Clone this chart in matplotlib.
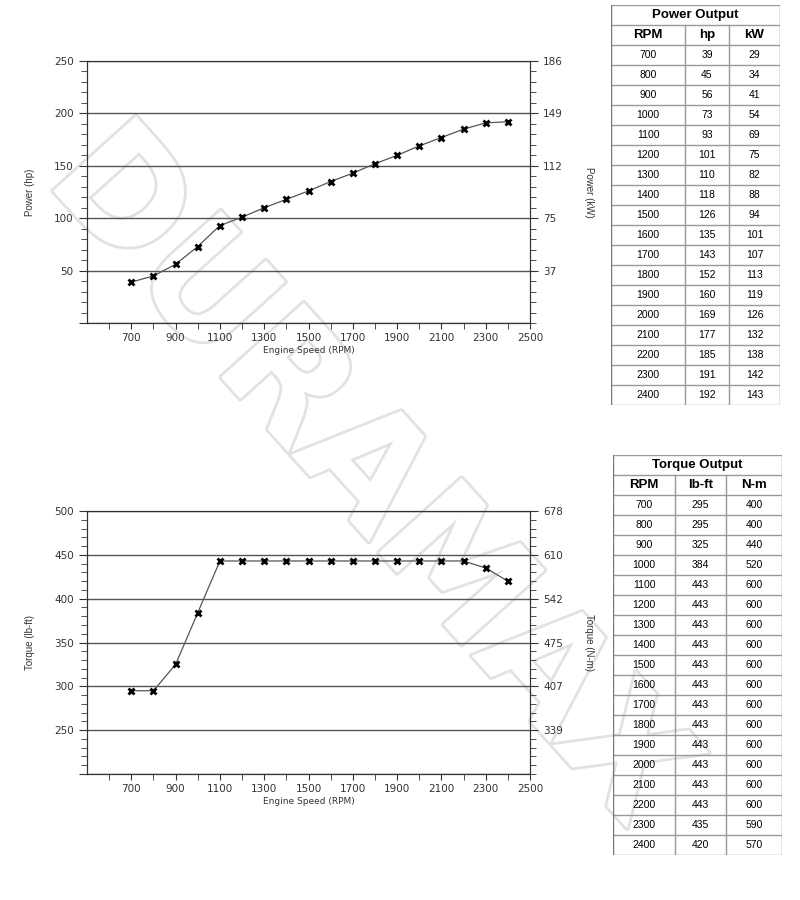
import matplotlib
matplotlib.use('Agg')
import matplotlib.pyplot as plt
import matplotlib.patheffects as pe
from matplotlib.ticker import FixedLocator

# engine data
rpm = [700, 800, 900, 1000, 1100, 1200, 1300, 1400, 1500, 1600,
       1700, 1800, 1900, 2000, 2100, 2200, 2300, 2400]
power_hp = [39, 45, 56, 73, 93, 101, 110, 118, 126, 135,
            143, 152, 160, 169, 177, 185, 191, 192]
power_kw = [29, 34, 41, 54, 69, 75, 82, 88, 94, 101,
            107, 113, 119, 126, 132, 138, 142, 143]
torque_lbft = [295, 295, 325, 384, 443, 443, 443, 443, 443, 443,
               443, 443, 443, 443, 443, 443, 435, 420]
torque_nm = [400, 400, 440, 520, 600, 600, 600, 600, 600, 600,
             600, 600, 600, 600, 600, 600, 590, 570]

HP_TO_KW = 0.7457
LBFT_TO_NM = 1.3558

narrow = ['Liberation Sans Narrow', 'Liberation Sans', 'DejaVu Sans']
plt.rcParams['font.family'] = ['Liberation Sans', 'DejaVu Sans']

fig = plt.figure(figsize=(8, 9), dpi=100)

# faint outlined watermark behind everything
fig.text(0.46, 0.47, 'DURAMAX', fontsize=110, fontweight='bold',
         family='DejaVu Sans', rotation=-48, ha='center', va='center',
         color='white', zorder=-5,
         path_effects=[pe.withStroke(linewidth=4, foreground='#e2e2e2')])


# one engine curve with a second (metric) axis on the right
def curvePlot(rect, y, ymin, ymax, conv, ylab, ylab2):
    ax = fig.add_axes(rect)
    ax.patch.set_alpha(0)
    ax.plot(rpm, y, color='#555555', lw=0.9, marker='x', ms=5, mew=2,
            mec='black', zorder=3)
    ax.set_xlim(500, 2500)
    ax.xaxis.set_major_locator(FixedLocator(range(700, 2501, 200)))
    ax.xaxis.set_minor_locator(FixedLocator(range(600, 2500, 200)))
    major = list(range(ymin, ymax + 1, 50))
    ax.set_yticks(major)
    ax.set_yticklabels(['' if v == ymin else '%d' % v for v in major])
    ax.yaxis.set_minor_locator(FixedLocator(range(ymin, ymax, 10)))
    ax.set_ylim(ymin, ymax)
    ax.tick_params(which='both', direction='out', color='#333333',
                   labelsize=7.5, labelcolor='#333333', length=4)
    ax.tick_params(axis='y', which='major', length=6)
    for lab in ax.get_xticklabels() + ax.get_yticklabels():
        lab.set_family('DejaVu Sans')
    ax.yaxis.grid(True, color='#555555', lw=1)
    ax.set_axisbelow(True)
    for s in ax.spines.values():
        s.set_color('#333333')
    ax.set_xlabel('Engine Speed (RPM)', fontsize=6.5, color='#333333',
                  family='DejaVu Sans', labelpad=2)
    ax.set_ylabel(ylab, fontsize=7, color='#333333', family=narrow,
                  labelpad=14)

    ax2 = ax.twinx()
    ax2.patch.set_alpha(0)
    ticks2 = [v * conv for v in major if v > ymin]
    ax2.set_yticks(ticks2)
    ax2.set_yticklabels(['%d' % round(t) for t in ticks2],
                        family='DejaVu Sans')
    ax2.yaxis.set_minor_locator(FixedLocator(
        [v * conv for v in range(ymin, ymax, 10)]))
    ax2.set_ylim(ymin * conv, ymax * conv)
    ax2.tick_params(which='both', direction='out', color='#333333',
                    labelsize=7.5, labelcolor='#333333', length=4)
    ax2.tick_params(which='major', length=6)
    ax2.set_ylabel(ylab2, fontsize=7, color='#333333', family=narrow,
                   rotation=-90, labelpad=22)
    for s in ax2.spines.values():
        s.set_color('#333333')
    return ax


curvePlot([0.10875, 0.6411, 0.55375, 0.2911], power_hp, 0, 250,
          HP_TO_KW, 'Power (hp)', 'Power (kW)')
curvePlot([0.10875, 0.14, 0.55375, 0.2922], torque_lbft, 200, 500,
          LBFT_TO_NM, 'Torque (lb-ft)', 'Torque (N-m)')


# spec table drawn on its own axes, one unit per row
def specTable(rect, title, heads, cols, edges):
    ax = fig.add_axes(rect)
    n = len(cols[0]) + 2
    ax.set_xlim(0, 1)
    ax.set_ylim(n, 0)
    ax.axis('off')
    for r in range(n + 1):
        ax.plot([0, 1], [r, r], color='#999999', lw=1)
    ax.plot([0, 0], [0, n], color='#777777', lw=1)
    ax.plot([1, 1], [0, n], color='#888888', lw=1)
    for e in edges[1:-1]:
        ax.plot([e, e], [1, n], color='#999999', lw=1)
    ax.text(0.5, 0.5, title, ha='center', va='center', fontsize=9.5,
            fontweight='bold')
    for i, h in enumerate(heads):
        xc = (edges[i] + edges[i + 1]) / 2
        ax.text(xc, 1.5, h, ha='center', va='center', fontsize=9.5,
                fontweight='bold')
        for r, v in enumerate(cols[i]):
            ax.text(xc, r + 2.5, str(v), ha='center', va='center',
                    fontsize=7.5)


specTable([0.76375, 0.55, 0.21125, 0.4444], 'Power Output',
          ['RPM', 'hp', 'kW'], [rpm, power_hp, power_kw],
          [0, 0.438, 0.698, 1])
specTable([0.76625, 0.05, 0.21125, 0.4444], 'Torque Output',
          ['RPM', 'lb-ft', 'N-m'], [rpm, torque_lbft, torque_nm],
          [0, 0.367, 0.669, 1])

fig.savefig('out.png', dpi=100)
